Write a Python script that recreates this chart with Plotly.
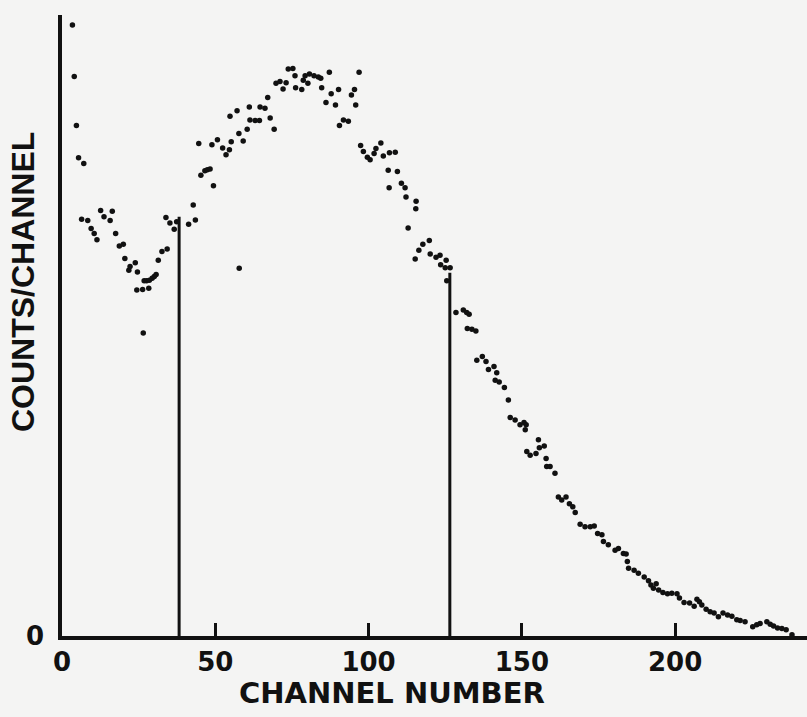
import plotly.graph_objects as go

# Data (channel, counts in arbitrary units 0-100)
channels = [
    3.4, 4.0, 4.7, 5.4, 6.4, 7.1, 8.4, 9.5, 10.5, 11.4, 12.6, 13.7, 15.7, 16.4, 17.5,
    18.7, 20.0, 20.5, 21.8, 22.2, 23.9, 24.4, 24.6, 26.3, 26.5, 26.8, 27.6, 28.3, 28.5,
    29.4, 30.1, 30.7, 31.4, 32.6, 33.9, 34.3, 35.2, 36.6, 37.4,
    41.3, 42.8, 43.5, 44.6, 45.3, 46.6, 47.4, 48.3, 48.9, 49.4, 50.7, 52.4, 53.5, 54.6,
    54.8, 55.2, 57.1, 57.7, 57.8, 59.1, 60.4, 61.1, 61.3, 63.0, 64.4, 64.6, 66.2, 67.1,
    67.9, 69.2, 69.8, 71.1, 72.1, 73.1, 73.8, 75.3, 76.0, 76.2, 78.2, 78.7, 79.3, 80.2,
    80.7, 82.2, 83.6, 84.4, 84.7, 86.1, 87.2, 87.8, 89.2, 90.2, 90.5, 91.8, 93.4, 94.4,
    95.4, 95.8, 96.9, 97.4, 98.3, 99.6, 100.5, 101.8, 102.4, 104.0, 104.8, 106.4, 106.7,
    106.8, 108.7, 109.4, 110.7, 111.9, 112.2, 112.9, 115.2, 115.4, 115.5, 116.4, 117.7,
    119.8, 120.1, 122.0, 123.3, 123.5, 125.0, 125.3, 125.5, 126.6,
    128.5, 130.9, 132.0, 132.8, 132.2, 133.7, 135.0, 135.3, 137.1, 138.3, 139.1, 140.9,
    141.3, 141.8, 142.6, 144.3, 145.6, 146.2, 147.8, 149.4, 150.7, 151.1, 151.4, 151.6,
    152.7, 154.6, 155.4, 155.7, 157.3, 157.9, 158.1, 159.2, 160.8, 161.9, 163.0, 164.4,
    165.5, 166.6, 167.4, 169.0, 170.6, 172.3, 173.6, 174.7, 176.1, 176.6, 178.2, 180.4,
    181.5, 183.1, 184.0, 184.4, 184.8, 186.6, 188.0, 189.9, 191.3, 192.1, 192.9, 193.8,
    194.6, 196.0, 197.5, 198.9, 200.6, 201.4, 202.9, 204.7, 206.2, 207.1, 207.9, 208.7,
    210.1, 211.4, 212.7, 214.1, 215.6, 217.1, 218.5, 220.1, 221.2, 222.8, 225.3, 226.6,
    227.7, 229.9, 231.0, 232.1, 233.4, 234.8, 236.2, 238.1,
]
counts = [
    98.4, 90.1, 82.2, 77.0, 67.1, 76.1, 66.9, 65.6, 64.8, 63.8, 68.5, 67.5, 66.9, 68.4, 64.8,
    62.8, 63.1, 60.8, 58.9, 59.5, 60.1, 55.7, 58.6, 55.8, 48.8, 57.2, 57.2, 56.0, 57.3,
    57.6, 57.9, 58.2, 60.5, 61.9, 67.4, 62.3, 66.5, 65.5, 66.7,
    66.3, 69.4, 67.0, 79.3, 74.2, 74.9, 75.1, 75.2, 79.1, 72.5, 79.9, 78.6, 77.5, 78.3,
    83.7, 79.6, 84.6, 80.9, 59.2, 79.7, 81.6, 85.2, 83.1, 83.0, 83.0, 85.2, 85.0, 86.7,
    83.4, 81.6, 89.0, 89.3, 88.1, 89.1, 91.3, 91.4, 90.2, 88.3, 88.0, 89.5, 90.2, 89.0,
    90.5, 90.2, 90.0, 89.8, 88.3, 85.9, 90.8, 87.3, 85.5, 88.0, 82.2, 83.1, 82.9, 87.1,
    88.0, 85.5, 90.8, 79.0, 78.0, 77.1, 76.7, 77.7, 78.5, 79.4, 77.3, 75.0, 72.2,
    77.8, 77.9, 74.8, 72.9, 72.2, 70.7, 65.7, 60.7, 68.8, 70.0, 62.1, 63.1,
    63.7, 61.5, 61.0, 61.3, 59.8, 59.3, 60.5, 57.2, 59.3,
    52.1, 52.5, 52.1, 51.8, 49.5, 49.4, 49.1, 44.4, 45.0, 44.2, 42.9, 43.4,
    41.2, 42.4, 40.9, 40.0, 38.0, 35.2, 34.8, 34.0, 34.4, 33.2, 34.0, 29.7,
    29.1, 29.4, 31.6, 30.3, 30.6, 28.6, 27.3, 27.3, 26.2, 22.4, 21.9, 22.4,
    21.3, 20.8, 19.9, 18.0, 17.6, 17.6, 17.7, 16.5, 16.3, 15.2, 14.7, 13.8,
    14.1, 13.3, 13.2, 12.0, 10.9, 10.6, 10.1, 9.5, 8.9, 8.2, 7.7, 8.4,
    7.4, 7.0, 6.8, 6.9, 6.8, 6.1, 5.4, 5.3, 4.8, 5.9, 5.5, 5.0,
    4.3, 3.9, 3.7, 3.1, 3.7, 3.4, 3.2, 2.6, 2.5, 2.3, 1.5, 1.8,
    2.0, 2.3, 1.9, 1.6, 1.3, 1.2, 1.0, 0.2,
]

# Window markers (vertical lines)
window_channels = [38.2, 126.5]
window_heights = [67.5, 58.5]

x_tick_vals = [0, 50, 100, 150, 200]
x_tick_text = ["0", "50", "100", "150", "200"]
x_title = "CHANNEL NUMBER"
y_title = "COUNTS/CHANNEL"

line_x, line_y = [], []
for c, h in zip(window_channels, window_heights):
    line_x += [c, c, None]
    line_y += [0, h, None]

fig = go.Figure()
fig.add_trace(go.Scatter(x=line_x, y=line_y, mode="lines",
                         line=dict(color="#111111", width=3),
                         hoverinfo="skip", showlegend=False))
fig.add_trace(go.Scatter(x=channels, y=counts, mode="markers",
                         marker=dict(color="#111111", size=5.5),
                         showlegend=False))

bg = "#f4f4f3"
fig.update_layout(
    width=807, height=717,
    margin=dict(l=62, r=0, t=15, b=81),
    paper_bgcolor=bg, plot_bgcolor=bg,
    xaxis=dict(range=[0, 243], showgrid=False, zeroline=False,
               showline=True, linecolor="#111111", linewidth=4,
               ticks="inside", ticklen=13, tickwidth=2.5, tickcolor="#111111",
               tickvals=x_tick_vals, ticktext=x_tick_text,
               tickfont=dict(family="DejaVu Sans", size=26, color="#111111",
                             weight="bold")),
    yaxis=dict(range=[0, 100], showgrid=False, zeroline=False,
               showline=True, linecolor="#111111", linewidth=4,
               showticklabels=False, ticks=""),
    annotations=[
        dict(text="<b>" + x_title + "</b>", xref="paper", yref="paper", x=0.443, y=-0.092,
             xanchor="center", yanchor="middle", showarrow=False,
             font=dict(family="DejaVu Sans", size=29, color="#111111")),
        dict(text="<b>" + y_title + "</b>", xref="paper", yref="paper", x=-0.0523, y=0.57,
             xanchor="center", yanchor="middle", textangle=-90, showarrow=False,
             font=dict(family="Liberation Sans", size=32, color="#111111")),
        dict(text="<b>0</b>", xref="paper", yref="paper", x=-0.0362, y=0.0,
             xanchor="center", yanchor="middle", showarrow=False,
             font=dict(family="DejaVu Sans", size=26, color="#111111")),
    ],
)

fig.write_html("out.html")
